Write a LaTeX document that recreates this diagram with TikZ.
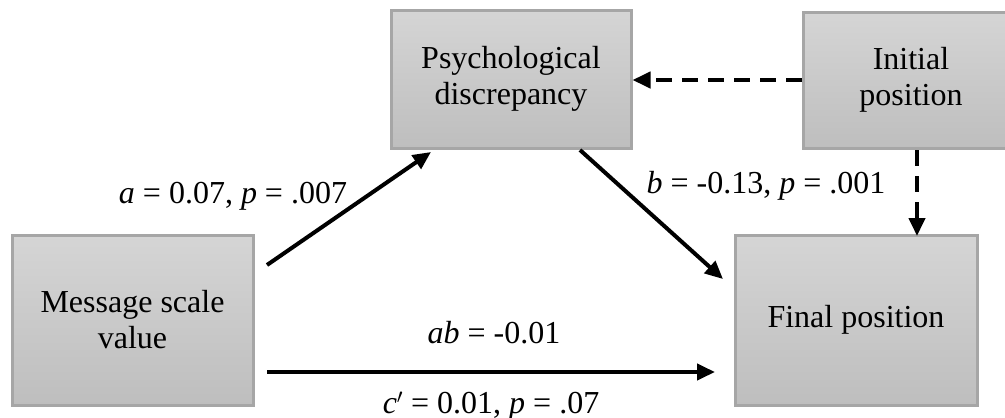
\documentclass[tikz,border=0pt]{standalone}
\usepackage{fontspec}
\setmainfont{Liberation Serif}
\usetikzlibrary{arrows.meta}
\definecolor{boxtop}{HTML}{D5D5D5}
\definecolor{boxbot}{HTML}{BEBEBE}
\definecolor{boxline}{HTML}{A6A6A6}
\begin{document}
\begin{tikzpicture}[x=1pt,y=-1pt,
  box/.style={draw=boxline, line width=3pt, top color=boxtop, bottom color=boxbot,
    align=center, inner sep=0pt, font=\fontsize{32}{36}\selectfont},
  conn/.style={line width=4pt, -{Triangle[length=18pt,width=16pt]}},
  dconn/.style={conn, dash pattern=on 16pt off 10pt},
  lab/.style={font=\fontsize{32}{36}\selectfont, anchor=base, inner sep=0pt}]
\useasboundingbox (0,0) rectangle (1005,418);
\begin{scope}
\clip (0,0) rectangle (1005,418);
\node[box, minimum width=240, minimum height=138] (psy) at (511,79) {Psychological\\discrepancy};
\node[box, minimum width=216, minimum height=136] (init) at (911,80) {Initial\\position};
\node[box, minimum width=241, minimum height=170] (msv) at (132.5,320) {Message scale\\value};
\node[box, minimum width=242, minimum height=170] (fin) at (856,320) {Final position};
\end{scope}
\coordinate (a1) at (267,265);
\coordinate (a2) at (431,152);
\coordinate (b1) at (580,150);
\coordinate (b2) at (723,279);
\coordinate (c1) at (267,372);
\coordinate (c2) at (715,372);
\coordinate (d1) at (917,150);
\coordinate (d2) at (917,236);
\draw[conn] (a1) -- (a2);
\draw[conn] (b1) -- (b2);
\draw[conn] (c1) -- (c2);
\draw[dconn] (init.west |- 0,80) -- (psy.east |- 0,80);
\draw[dconn] (d1) -- (d2);
\node[lab] (la) at (233,203) {\textit{a} = 0.07, \textit{p} = .007};
\node[lab] (lb) at (766,193) {\textit{b} = -0.13, \textit{p} = .001};
\node[lab] (lab1) at (494,343) {\textit{ab} = -0.01};
\node[lab] (lc) at (491,413) {\textit{c}$'$ = 0.01, \textit{p} = .07};
\end{tikzpicture}
\end{document}
